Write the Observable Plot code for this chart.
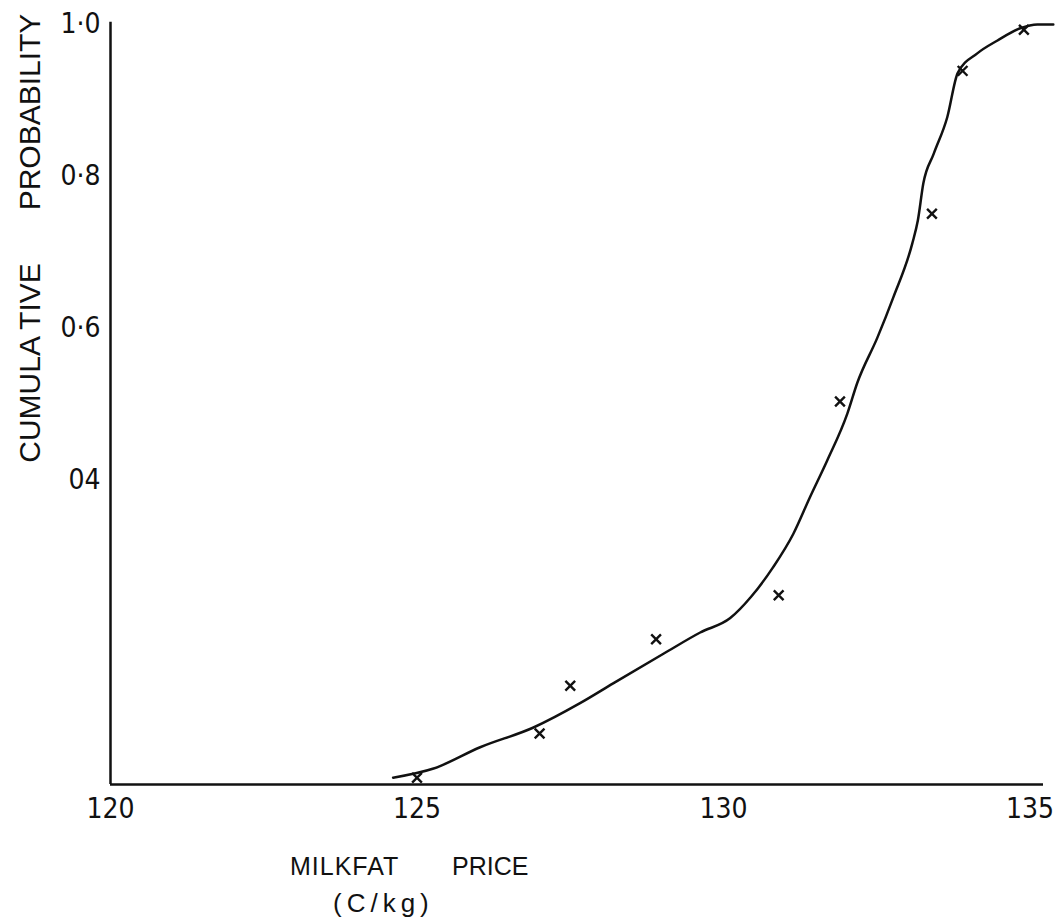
<!DOCTYPE html>
<html>
<head>
<meta charset="utf-8">
<script src="https://cdn.jsdelivr.net/npm/d3@7"></script>
<script src="https://cdn.jsdelivr.net/npm/@observablehq/plot@0.6"></script>
<style>
  html, body { margin: 0; padding: 0; background: #fff; }
  svg { display: block; }
</style>
</head>
<body>
<div id="chart"></div>
<script>
// Tick values and labels
const xTicks = [120, 125, 130, 135];
const yTicks = [0.4, 0.6, 0.8, 1.0];
const yTickLabels = ["04", "0·6", "0·8", "1·0"];

// Observed points (crosses)
const obsPrice = [125.0, 127.0, 127.5, 128.9, 130.9, 131.9, 133.4, 133.9, 134.9];
const obsProb  = [0.009, 0.067, 0.130, 0.191, 0.249, 0.504, 0.751, 0.939, 0.993];

// Hand-fitted curve
const curvePrice = [124.61, 125.27, 126.03, 126.90, 127.66, 128.20, 129.02, 129.62, 130.11, 130.45, 130.81, 131.14, 131.41, 131.69, 132.02, 132.18, 132.51, 132.77, 133.08, 133.17, 133.26, 133.43, 133.65, 133.82, 134.14, 134.47, 134.84, 135.12, 135.38];
const curveProb  = [0.009, 0.021, 0.049, 0.075, 0.107, 0.133, 0.172, 0.200, 0.219, 0.247, 0.286, 0.330, 0.378, 0.426, 0.488, 0.528, 0.588, 0.641, 0.712, 0.742, 0.791, 0.830, 0.878, 0.936, 0.962, 0.979, 0.995, 1.000, 1.000];

const obs = obsPrice.map((p, i) => ({price: p, prob: obsProb[i]}));
const curve = curvePrice.map((p, i) => ({price: p, prob: curveProb[i]}));

const ink = "#111";
const chart = Plot.plot({
  width: 1055,
  height: 920,
  marginLeft: 110,
  marginRight: 12,
  marginTop: 24,
  marginBottom: 136,
  style: {background: "#fff", color: ink, fontFamily: "'Liberation Sans Narrow', 'DejaVu Sans Condensed', sans-serif", fontSize: "28px"},
  x: {domain: [120, 135.22]},
  y: {domain: [0, 1]},
  marks: [
    Plot.ruleY([0], {x1: 120, x2: 135.22, stroke: ink, strokeWidth: 2.5}),
    Plot.ruleX([120], {y1: 0, y2: 1.003, stroke: ink, strokeWidth: 2.5}),
    Plot.line(curve, {x: "price", y: "prob", curve: "monotone-x", stroke: ink, strokeWidth: 2.5}),
    Plot.dot(obs, {x: "price", y: "prob", symbol: "times", r: 4.5, stroke: ink, strokeWidth: 2.4}),
    Plot.axisX({ticks: xTicks, tickSize: 0, tickPadding: 14, label: null, tickFormat: d => String(d), fontSize: 28, fill: ink}),
    Plot.axisY({ticks: yTicks, tickSize: 0, tickPadding: 10, label: null, tickFormat: d => yTickLabels[yTicks.findIndex(t => Math.abs(t - d) < 1e-9)], fontSize: 28, fill: ink})
  ]
});
document.getElementById("chart").appendChild(chart);

// Axis titles
const svg = d3.select(chart);
const titleFont = "'Liberation Sans', Arial, sans-serif";
const yTitle = [
  {text: "PROBABILITY", cy: 112},
  {text: "CUMULA TIVE", cy: 363}
];
yTitle.forEach(t => {
  svg.append("text")
    .attr("transform", `translate(40,${t.cy}) rotate(-90)`)
    .attr("text-anchor", "middle")
    .attr("font-family", titleFont)
    .attr("font-size", 30)
    .attr("fill", ink)
    .text(t.text);
});
svg.append("text").attr("x", 290).attr("y", 875).attr("text-anchor", "start")
  .attr("font-family", titleFont).attr("font-size", 25).attr("letter-spacing", 1).attr("fill", ink)
  .text("MILKFAT");
svg.append("text").attr("x", 452).attr("y", 875).attr("text-anchor", "start")
  .attr("font-family", titleFont).attr("font-size", 25).attr("fill", ink)
  .text("PRICE");
svg.append("text").attr("x", 333).attr("y", 912).attr("text-anchor", "start")
  .attr("font-family", titleFont).attr("font-size", 26).attr("letter-spacing", 5).attr("fill", ink)
  .text("(C/kg)");
</script>
</body>
</html>
